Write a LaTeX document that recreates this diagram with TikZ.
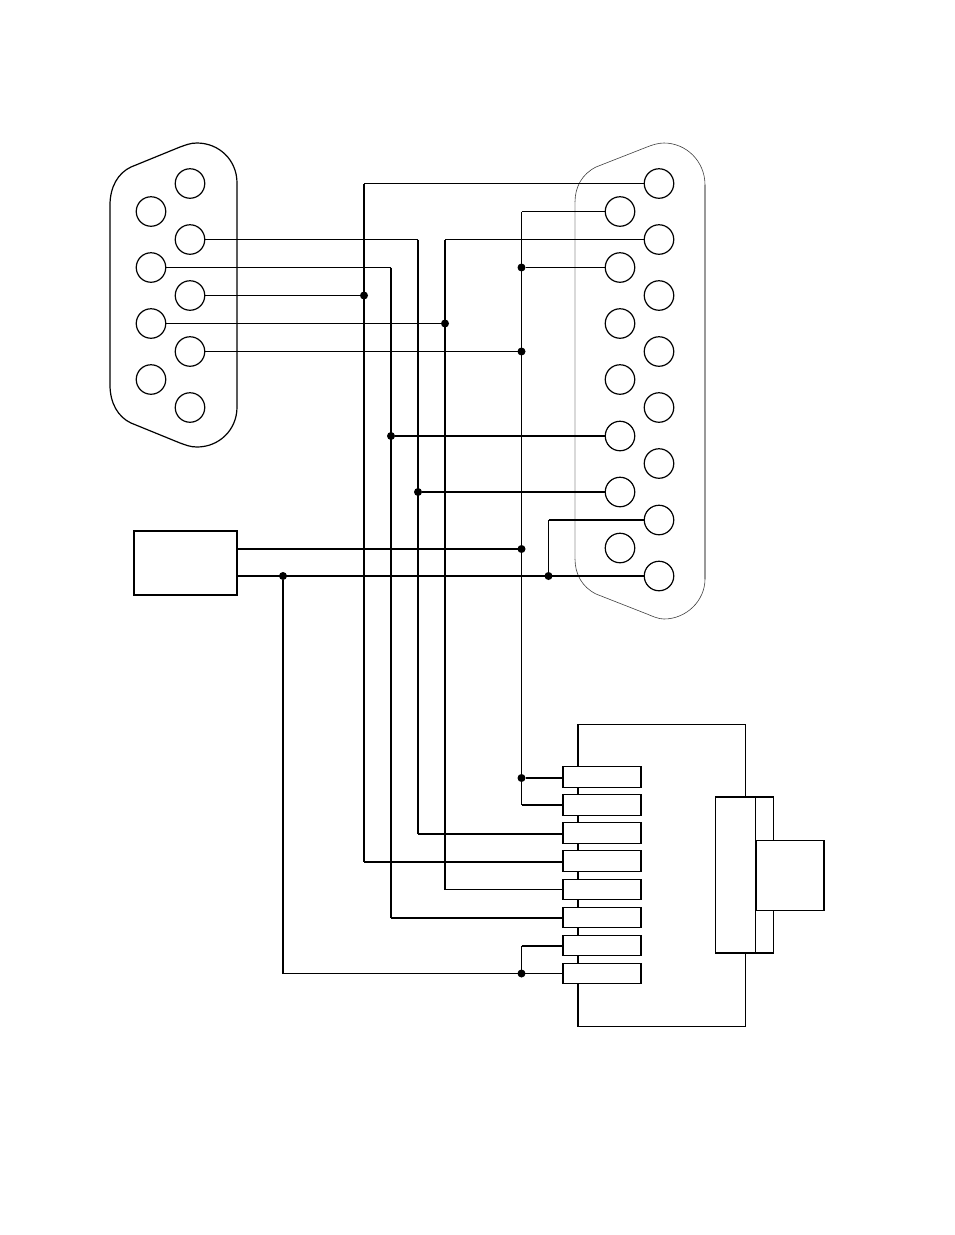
\documentclass[tikz,border=0pt]{standalone}
\tikzset{
  wire/.style={line width=1.3pt,black},
  fine/.style={line width=1.1pt,black},
  heavy/.style={line width=1.7pt,black},
  pin/.style={circle,draw,line width=1.2pt,minimum size=29.5pt,inner sep=0pt,outer sep=0pt},
  junction/.style={circle,fill=black,minimum size=8pt,inner sep=0pt,outer sep=0pt},
  contact/.style={rectangle,draw,fill=white,line width=1.3pt,minimum width=78pt,minimum height=20.5pt,inner sep=0pt,outer sep=0pt},
  shell/.style={line width=1.2pt,black},
  hairline/.style={line width=0.6pt,black!75},
}
\begin{document}
\begin{tikzpicture}[x=1pt,y=-1pt]
\fill[white] (0,0) rectangle (954,1235);
\useasboundingbox (0,0) rectangle (954,1235);
% 9-way shell
\draw[shell] (237,183) .. controls (237,160) and (219,143) .. (197,143)
  .. controls (190,143) and (186,145) .. (180,147) -- (131,167)
  .. controls (118,173) and (110,187) .. (110,205) -- (110,385)
  .. controls (110,403) and (118,417) .. (131,423) -- (180,443)
  .. controls (186,445) and (190,447) .. (197,447)
  .. controls (219,447) and (237,430) .. (237,407) -- cycle;
% 15-way shell
\draw[hairline] (575,202) .. controls (575,187) and (582,174) .. (596,167) -- (647,147)
  .. controls (652,145) and (658,143) .. (664,143)
  .. controls (686,143) and (705,161) .. (705,185);
\draw[hairline] (575,559) .. controls (575,574) and (582,587) .. (596,594) -- (647,614)
  .. controls (652,616) and (658,619) .. (664,619)
  .. controls (686,619) and (705,601) .. (705,579);
\draw[line width=1.2pt,black!15] (575,202) -- (575,559);
\draw[line width=1.2pt,black!40] (705,185) -- (705,579);
% enclosure
\draw[shell] (745.5,797) -- (745.5,724.5) -- (578,724.5) -- (578,1026.5) -- (745.5,1026.5) -- (745.5,953);
% pins
\foreach \n/\yy in {1/183.5,2/239.5,3/295.5,4/351.5,5/407.5} \node[pin] (a\n) at (190,\yy) {};
\foreach \n/\yy in {1/211.5,2/267.5,3/323.5,4/379.5} \node[pin] (b\n) at (151,\yy) {};
\foreach \n/\yy in {1/183.5,2/239.5,3/295.5,4/351.5,5/407.5,6/463.5,7/520,8/576} \node[pin] (c\n) at (659,\yy) {};
\foreach \n/\yy in {1/211.5,2/267.5,3/323.5,4/379.5,5/436,6/492,7/548} \node[pin] (d\n) at (620,\yy) {};
% contacts
\foreach \n/\yy in {1/777,2/805,3/833,4/861,5/889.5,6/917.5,7/945.5,8/973.5} \node[contact] (k\n) at (602,\yy) {};
% block
\node[rectangle,draw,line width=1.2pt,minimum width=103pt,minimum height=64pt,inner sep=0pt,outer sep=0pt] (psu) at (185.5,563) {};
% back-shell
\draw[shell] (755.5,797) -- (773.5,797) -- (773.5,840.5);
\draw[shell] (773.5,910) -- (773.5,953) -- (755.5,953);
\node[rectangle,draw,line width=1.3pt,minimum width=40.5pt,minimum height=156pt,inner sep=0pt,outer sep=0pt] (hood) at (735.5,875) {};
\node[rectangle,draw,line width=1.2pt,minimum width=68pt,minimum height=69.5pt,inner sep=0pt,outer sep=0pt] (plug) at (790,875.5) {};
% junctions
\node[junction] (j1) at (364,295.5) {};
\node[junction] (j2) at (445,323.5) {};
\node[junction] (j3) at (521.5,267.5) {};
\node[junction] (j4) at (521.5,351.5) {};
\node[junction] (j5) at (391,436) {};
\node[junction] (j6) at (418,492) {};
\node[junction] (j7) at (521.5,549) {};
\node[junction] (j8) at (283,576) {};
\node[junction] (j9) at (548.5,576) {};
\node[junction] (j10) at (521.5,778) {};
\node[junction] (j11) at (521.5,973.5) {};
% wires: long verticals
\draw[heavy] (c1.west -| j1) -- ([yshift=-1pt]k4.west -| j1);
\draw[heavy] (a2.east -| j6) -- ([yshift=-1pt]k3.west -| j6);
\draw[heavy] (b2.east -| j5) -- ([yshift=-.5pt]k6.west -| j5);
\draw[heavy] (c2.west -| j2) -- (k5.west -| j2);
\draw[fine] (d1.west -| j3) -- (k2.west -| j3);
\draw[wire] (j8) -- (j8 |- k8.west);
\draw[fine] (j9) -- (j9 |- c7.west);
\draw[fine] (j11) -- (j11 |- k7.west);
% wires: runs
\draw[fine] (c1.west) -- (c1.west -| j1);
\draw[fine] (d1.west) -- (d1.west -| j3);
\draw[wire] (c2.west) -- (c2.west -| j2);
\draw[wire] (d2.west) -- (j3);
\draw[wire] (a2.east) -- (a2.east -| j6);
\draw[wire] (b2.east) -- (b2.east -| j5);
\draw[wire] (a3.east) -- (j1);
\draw[wire] (b3.east) -- (j2);
\draw[wire] (a4.east) -- (j4);
\draw[heavy] (d5.west) -- (j5);
\draw[heavy] (d6.west) -- (j6);
\draw[heavy] (psu.east |- j7) -- (j7);
\draw[heavy] (psu.east |- j8) -- (c8.west);
\draw[fine] (j8 |- k8.west) -- (k8.west);
\draw[heavy] (j9 |- c7.west) -- (c7.west);
\draw[heavy] (j10) -- ([yshift=-1pt]k1.west);
\draw[heavy] ([yshift=-0pt]k2.west -| j10) -- (k2.west);
\draw[heavy] ([yshift=-1pt]k3.west -| j6) -- ([yshift=-1pt]k3.west);
\draw[heavy] ([yshift=-1pt]k4.west -| j1) -- ([yshift=-1pt]k4.west);
\draw[fine] (k5.west -| j2) -- (k5.west);
\draw[heavy] ([yshift=-.5pt]k6.west -| j5) -- ([yshift=-.5pt]k6.west);
\draw[heavy] ([yshift=-.5pt]k7.west -| j11) -- ([yshift=-.5pt]k7.west);
\end{tikzpicture}
\end{document}
